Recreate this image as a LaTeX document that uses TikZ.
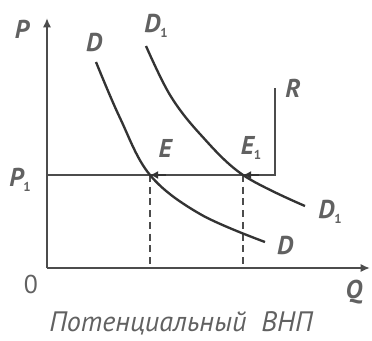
\documentclass[tikz,border=0pt]{standalone}
\usepackage{fontspec}
\setmainfont{PT Sans}
\usetikzlibrary{arrows.meta}
\newcommand{\subone}{\raisebox{-0.35ex}{\fontsize{11}{11}\selectfont\upshape 1}}
\tikzset{
  lbl/.style={font=\fontsize{22}{22}\selectfont\bfseries\itshape, text=black!62, inner sep=0pt},
  axis/.style={line width=2pt, draw=black!70},
  curve/.style={line width=2pt, draw=black!80},
  guide/.style={line width=1.8pt, draw=black!70, dash pattern=on 6pt off 4pt},
  eqarrow/.style={line width=1.8pt, draw=black!80, -{Latex[length=7pt,width=7pt]}}
}
\begin{document}
\begin{tikzpicture}[x=0.03cm,y=-0.03cm]
\useasboundingbox (0,0) rectangle (372,340);
% named points
\coordinate (O) at (47,268);
\coordinate (Ytop) at (47,18);
\coordinate (Xend) at (370,268);
\coordinate (P1pt) at (47,175);
\coordinate (E) at (150,175);
\coordinate (E1) at (243,175);
\coordinate (Rc) at (275,175);
\coordinate (Rtop) at (275,88);
\coordinate (Eb) at (150,268);
\coordinate (E1b) at (243,268);
\coordinate (Ea) at (166,175);
\coordinate (E1a) at (259,175);
% axes
\draw[axis, -{Latex[length=8pt,width=7pt]}] (O) -- (Ytop);
\draw[axis, -{Latex[length=8pt,width=7pt]}] (O) -- (Xend);
% supply P1 and R
\draw[axis, line width=2.2pt] (P1pt) -- (Rc) -- (Rtop);
% dashed guides
\draw[guide] (E) -- (Eb);
\draw[guide] (E1) -- (E1b);
% demand curves
\draw[curve] plot[smooth, tension=0.6] coordinates {(96,62) (120,118) (E) (200,214) (265,242)};
\draw[curve] plot[smooth, tension=0.6] coordinates {(146,46) (170,95) (200,134) (E1) (305,206)};
% arrows
\draw[eqarrow] (Ea) -- (E);
\draw[eqarrow] (E1a) -- (E1);
% labels
\node[lbl] (lP) at (22,29) {P};
\node[lbl] (lP1) at (20,180) {P\subone};
\node[lbl, font=\fontsize{22}{22}\selectfont] (l0) at (31,284) {0};
\node[lbl] (lQ) at (354,292) {Q};
\node[lbl] (lD) at (94,42) {D};
\node[lbl] (lD1) at (156,26) {D\subone};
\node[lbl] (lR) at (293,88) {R};
\node[lbl] (lE) at (165,148) {E};
\node[lbl] (lE1) at (251,148) {E\subone};
\node[lbl] (lD1b) at (330,212) {D\subone};
\node[lbl] (lDb) at (285,245) {D};
\node[lbl, font=\fontsize{24}{24}\selectfont\itshape, text=black!62] (cap) at (181,323) {Потенциальный\ \ ВНП};
\end{tikzpicture}
\end{document}
